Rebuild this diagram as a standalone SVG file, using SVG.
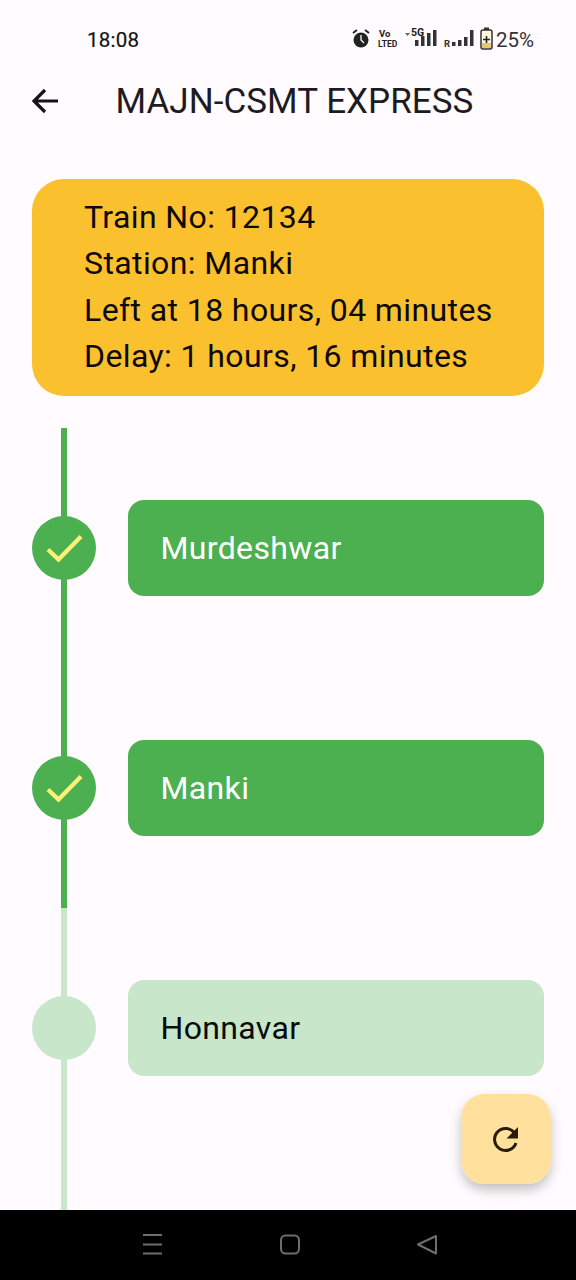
<svg xmlns="http://www.w3.org/2000/svg" width="576" height="1280" viewBox="0 0 576 1280">
<defs>
<style>
text{font-family:Roboto,"Liberation Sans",sans-serif}
.info{font-size:32px;fill:#0c0a02;letter-spacing:.4px}
.lbl{font-size:32px;letter-spacing:.35px}
.tick{fill:none;stroke:#fff176;stroke-width:4.300}
.nav{fill:none;stroke:#6e6e6e;stroke-width:2}
</style>
<filter id="sh" x="-30%" y="-30%" width="160%" height="170%"><feDropShadow dx="0" dy="6" stdDeviation="6" flood-color="#000" flood-opacity=".24"/></filter>
</defs>
<rect width="576" height="1280" fill="#fffbfe"/>
<g id="status-bar">
<text x="87" y="47" font-size="20.500" font-weight="400" letter-spacing=".25" stroke="#141414" stroke-width=".2" fill="#141414">18:08</text>
<circle cx="361" cy="40" r="7.500" fill="#222"/><path d="M353 33l4-3M369 33l-4-3" stroke="#222" stroke-width="2"/><path d="M361 35v5l3 3" stroke="#fff" stroke-width="1.300" fill="none"/>
<text x="379" y="37" font-size="9.500" font-weight="700" fill="#222">Vo</text>
<text x="378" y="47" font-size="8.500" font-weight="700" fill="#222">LTED</text>
<text x="411" y="36" font-size="10.500" font-weight="700" fill="#222">5G</text>
<path d="M405 33h5l-2.500 3z" fill="#666"/>
<path d="M415 40h3.500v6h-3.500zM421 36h3.500v10h-3.500zM427 33h3.500v13h-3.500zM433 30h3.500v16h-3.500z" fill="#333"/>
<text x="444" y="47" font-size="9.500" font-weight="700" fill="#333">R</text>
<path d="M452 42h3.500v4h-3.500zM458 40h3.500v6h-3.500zM464 37h3.500v9h-3.500zM470 30h3.500v16h-3.500z" fill="#333"/>
<rect x="481" y="30" width="11" height="19" rx="2" fill="#fff8e1" stroke="#333" stroke-width="1.500"/><rect x="484" y="27.500" width="5" height="2.500" fill="#333"/><rect x="482" y="43" width="9" height="5" fill="#e8c96a"/><path d="M486.500 36v7M483 39.500h7" stroke="#222" stroke-width="1.600"/>
<text x="496" y="47" font-size="20.500" fill="#333">25%</text>
</g>
<g id="app-bar">
<path d="M58 101H34M45 90L34 101L45 112" fill="none" stroke="#141414" stroke-width="3.200"/>
<text x="115.500" y="113" font-size="35" letter-spacing=".05" fill="#1c1b1f">MAJN-CSMT EXPRESS</text>
</g>
<g id="info-card">
<rect x="32" y="179" width="512" height="217" rx="32" fill="#fbc02d"/>
<text class="info" x="84" y="228">Train No: 12134</text>
<text class="info" x="84" y="274">Station: Manki</text>
<text class="info" x="84" y="321">Left at 18 hours, 04 minutes</text>
<text class="info" x="84" y="367">Delay: 1 hours, 16 minutes</text>
</g>
<g id="connectors">
<rect x="61" y="428" width="6" height="480" fill="#4caf50"/>
<rect x="61" y="908" width="6" height="302" fill="#c8e6c9"/>
</g>
<g id="node-murdeshwar">
<circle cx="64" cy="548" r="32" fill="#4caf50"/><path class="tick" d="M48 549.500L58.500 559.500L81 536.500"/>
<rect x="128" y="500" width="416" height="96" rx="16" fill="#4caf50"/>
<text class="lbl" x="160.500" y="558.500" fill="#fff">Murdeshwar</text>
</g>
<g id="node-manki">
<circle cx="64" cy="788" r="32" fill="#4caf50"/><path class="tick" d="M48 789.500L58.500 799.500L81 776.500"/>
<rect x="128" y="740" width="416" height="96" rx="16" fill="#4caf50"/>
<text class="lbl" x="160.500" y="798.500" fill="#fff">Manki</text>
</g>
<g id="node-honnavar">
<circle cx="64" cy="1028" r="32" fill="#c8e6c9"/>
<rect x="128" y="980" width="416" height="96" rx="16" fill="#c8e6c9"/>
<text class="lbl" x="160.500" y="1038.500" fill="#0a0a0a">Honnavar</text>
</g>
<g id="refresh-button">
<rect x="461" y="1094" width="90" height="90" rx="24" fill="#ffe09c" filter="url(#sh)"/>
<path d="M514.500 1133A11 11 0 1 0 516 1143" fill="none" stroke="#2a1c08" stroke-width="3"/>
<path d="M518 1127v11.500h-11.500z" fill="#2a1c08"/>
</g>
<g id="nav-bar">
<rect y="1210" width="576" height="70" fill="#000"/>
<path class="nav" d="M143 1235h19M143 1244.500h19M143 1253.500h19"/>
<rect x="281" y="1235.500" width="18" height="18" rx="4.500" class="nav"/>
<path class="nav" d="M418 1244.500L436 1236V1253.500Z" stroke-linejoin="round"/>
</g>
</svg>
